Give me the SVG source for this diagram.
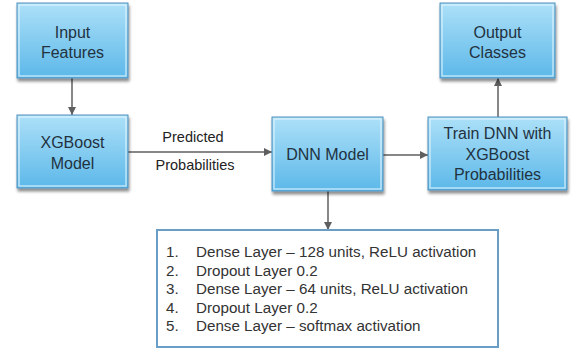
<svg xmlns="http://www.w3.org/2000/svg" width="571" height="351" viewBox="0 0 571 351">
<defs>
<linearGradient id="g" x1="0" y1="0" x2="0" y2="1">
<stop offset="0" stop-color="#ade0f8"/>
<stop offset="1" stop-color="#5cb8e9"/>
</linearGradient>
<filter id="sh" x="-10%" y="-10%" width="125%" height="130%">
<feGaussianBlur in="SourceAlpha" stdDeviation="1.5"/>
<feOffset dx="1" dy="2.5" result="b"/>
<feComponentTransfer><feFuncA type="linear" slope="0.45"/></feComponentTransfer>
<feMerge><feMergeNode/><feMergeNode in="SourceGraphic"/></feMerge>
</filter>
<marker id="ah" markerWidth="10" markerHeight="10" refX="9" refY="5" orient="auto" markerUnits="userSpaceOnUse">
<path d="M1,1 L9,5 L1,9 Z" fill="#5f5f5f"/>
</marker>
</defs>
<style>
.box{fill:url(#g);stroke:#4f90bb;stroke-width:1;filter:url(#sh)}
.bev{fill:none;stroke:#e4f5fd;stroke-width:1.5;opacity:0.7}
.t{font-family:"Liberation Sans",Arial,sans-serif;font-size:16px;fill:#22323f;text-anchor:middle}
.lab{font-family:"Liberation Sans",Arial,sans-serif;font-size:14.5px;fill:#222;text-anchor:middle}
.li{font-family:"Liberation Sans",Arial,sans-serif;font-size:15.2px;fill:#333}
.c{stroke:#5f5f5f;stroke-width:1.5;fill:none;marker-end:url(#ah)}
</style>
<g id="connectors">
<line class="c" x1="72" y1="78" x2="72" y2="115"/>
<line class="c" x1="128" y1="152" x2="272" y2="152"/>
<line class="c" x1="383" y1="155" x2="428" y2="155"/>
<line class="c" x1="498" y1="117" x2="498" y2="78"/>
<line class="c" x1="328" y1="190" x2="328" y2="230"/>
<text class="lab" x="193" y="142">Predicted</text>
<text class="lab" x="195" y="170">Probabilities</text>
</g>
<g id="input">
<rect class="box" x="17" y="3" width="111" height="75"/>
<rect class="bev" x="19" y="5" width="107" height="71"/>
<text class="t" x="72.5" y="38">Input</text>
<text class="t" x="72.5" y="58">Features</text>
</g>
<g id="xgboost">
<rect class="box" x="17" y="115" width="111" height="73"/>
<rect class="bev" x="19" y="117" width="107" height="69"/>
<text class="t" x="72.5" y="148">XGBoost</text>
<text class="t" x="72.5" y="169">Model</text>
</g>
<g id="dnn">
<rect class="box" x="272" y="117" width="111" height="74"/>
<rect class="bev" x="274" y="119" width="107" height="70"/>
<text class="t" x="327.5" y="160">DNN Model</text>
</g>
<g id="train">
<rect class="box" x="428" y="117" width="139" height="73"/>
<rect class="bev" x="430" y="119" width="135" height="69"/>
<text class="t" x="497.5" y="139">Train DNN with</text>
<text class="t" x="497.5" y="160">XGBoost</text>
<text class="t" x="497.5" y="180">Probabilities</text>
</g>
<g id="output">
<rect class="box" x="440" y="3" width="115" height="75"/>
<rect class="bev" x="442" y="5" width="111" height="71"/>
<text class="t" x="497.5" y="38">Output</text>
<text class="t" x="497.5" y="58">Classes</text>
</g>
<g id="layers">
<rect x="157" y="230" width="341" height="117" fill="#ffffff" stroke="#6b9ec6" stroke-width="2"/>
<text class="li" y="257"><tspan x="166">1.</tspan><tspan x="196">Dense Layer – 128 units, ReLU activation</tspan></text>
<text class="li" y="276"><tspan x="166">2.</tspan><tspan x="196">Dropout Layer 0.2</tspan></text>
<text class="li" y="294"><tspan x="166">3.</tspan><tspan x="196">Dense Layer – 64 units, ReLU activation</tspan></text>
<text class="li" y="313"><tspan x="166">4.</tspan><tspan x="196">Dropout Layer 0.2</tspan></text>
<text class="li" y="331"><tspan x="166">5.</tspan><tspan x="196">Dense Layer – softmax activation</tspan></text>
</g>
</svg>
